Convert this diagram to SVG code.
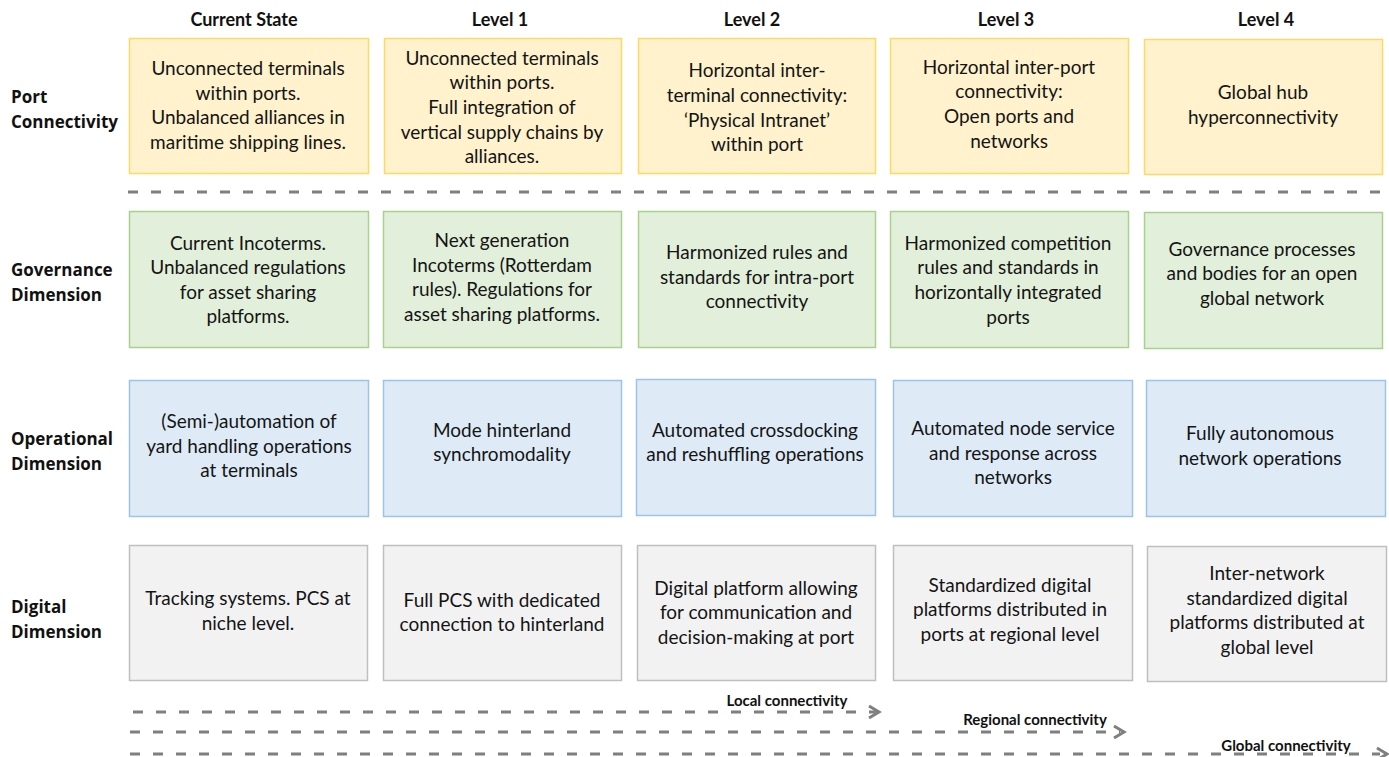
<svg xmlns="http://www.w3.org/2000/svg" width="1389" height="757" viewBox="0 0 1389 757">
<defs>
<style>
.t{font-family:Lato,"Open Sans","Liberation Sans",sans-serif;font-size:19px;fill:#141414;text-anchor:middle;dominant-baseline:central}
.h{font-family:Lato,"Open Sans","Liberation Sans",sans-serif;font-size:18px;font-weight:bold;fill:#111;text-anchor:middle;dominant-baseline:central}
.r{font-family:"Open Sans","DejaVu Sans",sans-serif;font-size:17px;font-weight:bold;fill:#111;dominant-baseline:central}
.c{font-family:Lato,"Open Sans","Liberation Sans",sans-serif;font-size:15px;font-weight:bold;fill:#111;text-anchor:middle;dominant-baseline:central}
.y{fill:#FFF2CC;stroke:#FFD966;stroke-width:1.5}
.g{fill:#E2EFDA;stroke:#A9D18E;stroke-width:1.5}
.b{fill:#DEEBF7;stroke:#9DC3E6;stroke-width:1.5}
.k{fill:#F2F2F2;stroke:#BFBFBF;stroke-width:1.5}
.d{stroke:#7F7F7F;stroke-width:3;fill:none;stroke-dasharray:10 13}
.a{stroke:#7F7F7F;stroke-width:3;fill:none}
</style>
</defs>
<rect width="1389" height="757" fill="#fff"/>
<g id="headers">
<text class="h" x="244" y="19">Current State</text>
<text class="h" x="500" y="19">Level 1</text>
<text class="h" x="752" y="19">Level 2</text>
<text class="h" x="1006" y="19">Level 3</text>
<text class="h" x="1266" y="19">Level 4</text>
</g>
<g id="row-labels">
<text class="r" x="11" y="96">Port</text>
<text class="r" x="11" y="121">Connectivity</text>
<text class="r" x="11" y="269">Governance</text>
<text class="r" x="11" y="294">Dimension</text>
<text class="r" x="11" y="438">Operational</text>
<text class="r" x="11" y="463">Dimension</text>
<text class="r" x="11" y="606">Digital</text>
<text class="r" x="11" y="631">Dimension</text>
</g>
<g id="p0"><rect class="y" x="129.5" y="38.5" width="239" height="135"/>
<text class="t" x="248" y="67">Unconnected terminals</text><text class="t" x="248" y="92">within ports.</text><text class="t" x="248" y="116">Unbalanced alliances in</text><text class="t" x="248" y="141">maritime shipping lines.</text></g>
<g id="p1"><rect class="y" x="384.5" y="38.5" width="237" height="135"/>
<text class="t" x="502" y="57">Unconnected terminals</text><text class="t" x="502" y="81">within ports.</text><text class="t" x="502" y="106">Full integration of</text><text class="t" x="502" y="131">vertical supply chains by</text><text class="t" x="502" y="155">alliances.</text></g>
<g id="p2"><rect class="y" x="638.5" y="38.5" width="237" height="135"/>
<text class="t" x="757" y="69">Horizontal inter-</text><text class="t" x="757" y="94">terminal connectivity:</text><text class="t" x="757" y="119">‘Physical Intranet’</text><text class="t" x="757" y="143">within port</text></g>
<g id="p3"><rect class="y" x="890.5" y="38.5" width="238" height="135"/>
<text class="t" x="1009" y="66">Horizontal inter-port</text><text class="t" x="1009" y="90">connectivity:</text><text class="t" x="1009" y="115">Open ports and</text><text class="t" x="1009" y="140">networks</text></g>
<g id="p4"><rect class="y" x="1144.5" y="39.5" width="238" height="135"/>
<text class="t" x="1263" y="91">Global hub</text><text class="t" x="1263" y="116">hyperconnectivity</text></g>

<g id="g0"><rect class="g" x="129.5" y="211.5" width="239" height="136"/>
<text class="t" x="248" y="242">Current Incoterms.</text><text class="t" x="248" y="266">Unbalanced regulations</text><text class="t" x="248" y="291">for asset sharing</text><text class="t" x="248" y="315">platforms.</text></g>
<g id="g1"><rect class="g" x="383.5" y="211.5" width="238" height="136"/>
<text class="t" x="502" y="239">Next generation</text><text class="t" x="502" y="264">Incoterms (Rotterdam</text><text class="t" x="502" y="288">rules). Regulations for</text><text class="t" x="502" y="313">asset sharing platforms.</text></g>
<g id="g2"><rect class="g" x="638.5" y="211.5" width="237" height="136"/>
<text class="t" x="757" y="251">Harmonized rules and</text><text class="t" x="757" y="276">standards for intra-port</text><text class="t" x="757" y="300">connectivity</text></g>
<g id="g3"><rect class="g" x="890.5" y="211.5" width="238" height="136"/>
<text class="t" x="1008" y="242">Harmonized competition</text><text class="t" x="1008" y="266">rules and standards in</text><text class="t" x="1008" y="291">horizontally integrated</text><text class="t" x="1008" y="316">ports</text></g>
<g id="g4"><rect class="g" x="1144.5" y="212.5" width="238" height="136"/>
<text class="t" x="1262" y="248">Governance processes</text><text class="t" x="1262" y="272">and bodies for an open</text><text class="t" x="1262" y="297">global network</text></g>

<g id="o0"><rect class="b" x="129.5" y="380.5" width="239" height="136"/>
<text class="t" x="249" y="420">(Semi-)automation of</text><text class="t" x="249" y="445">yard handling operations</text><text class="t" x="249" y="469">at terminals</text></g>
<g id="o1"><rect class="b" x="383.5" y="380.5" width="238" height="136"/>
<text class="t" x="502" y="429">Mode hinterland</text><text class="t" x="502" y="453">synchromodality</text></g>
<g id="o2"><rect class="b" x="636.5" y="379.5" width="239" height="136"/>
<text class="t" x="755" y="429">Automated crossdocking</text><text class="t" x="755" y="453">and reshuffling operations</text></g>
<g id="o3"><rect class="b" x="893.5" y="380.5" width="239" height="136"/>
<text class="t" x="1013" y="427">Automated node service</text><text class="t" x="1013" y="452">and response across</text><text class="t" x="1013" y="476">networks</text></g>
<g id="o4"><rect class="b" x="1146.5" y="380.5" width="239" height="136"/>
<text class="t" x="1260" y="432">Fully autonomous</text><text class="t" x="1260" y="457">network operations</text></g>

<g id="d0"><rect class="k" x="129.5" y="545.5" width="238" height="135"/>
<text class="t" x="248" y="597">Tracking systems. PCS at</text><text class="t" x="248" y="622">niche level.</text></g>
<g id="d1"><rect class="k" x="383.5" y="545.5" width="238" height="135"/>
<text class="t" x="502" y="599">Full PCS with dedicated</text><text class="t" x="502" y="623">connection to hinterland</text></g>
<g id="d2"><rect class="k" x="637.5" y="545.5" width="238" height="135"/>
<text class="t" x="756" y="587">Digital platform allowing</text><text class="t" x="756" y="611">for communication and</text><text class="t" x="756" y="636">decision-making at port</text></g>
<g id="d3"><rect class="k" x="893.5" y="545.5" width="239" height="135"/>
<text class="t" x="1010" y="584">Standardized digital</text><text class="t" x="1010" y="608">platforms distributed in</text><text class="t" x="1010" y="633">ports at regional level</text></g>
<g id="d4"><rect class="k" x="1147.5" y="546.5" width="239" height="135"/>
<text class="t" x="1267" y="572">Inter-network</text><text class="t" x="1267" y="597">standardized digital</text><text class="t" x="1267" y="621">platforms distributed at</text><text class="t" x="1267" y="646">global level</text></g>

<g id="connectors">
<line class="d" x1="128" y1="192" x2="1386" y2="192"/>
<line class="d" x1="133" y1="712" x2="876" y2="712"/>
<polyline class="a" points="869,706 879,712 869,718"/>
<line class="d" x1="130" y1="732" x2="1120" y2="732"/>
<polyline class="a" points="1114,726 1124,732 1114,738"/>
<line class="d" x1="130" y1="754" x2="1380" y2="754"/>
<polyline class="a" points="1377,748 1387,754 1377,760"/>
<text class="c" x="787" y="700">Local connectivity</text>
<text class="c" x="1035" y="719">Regional connectivity</text>
<text class="c" x="1286" y="745">Global connectivity</text>
</g>
</svg>
